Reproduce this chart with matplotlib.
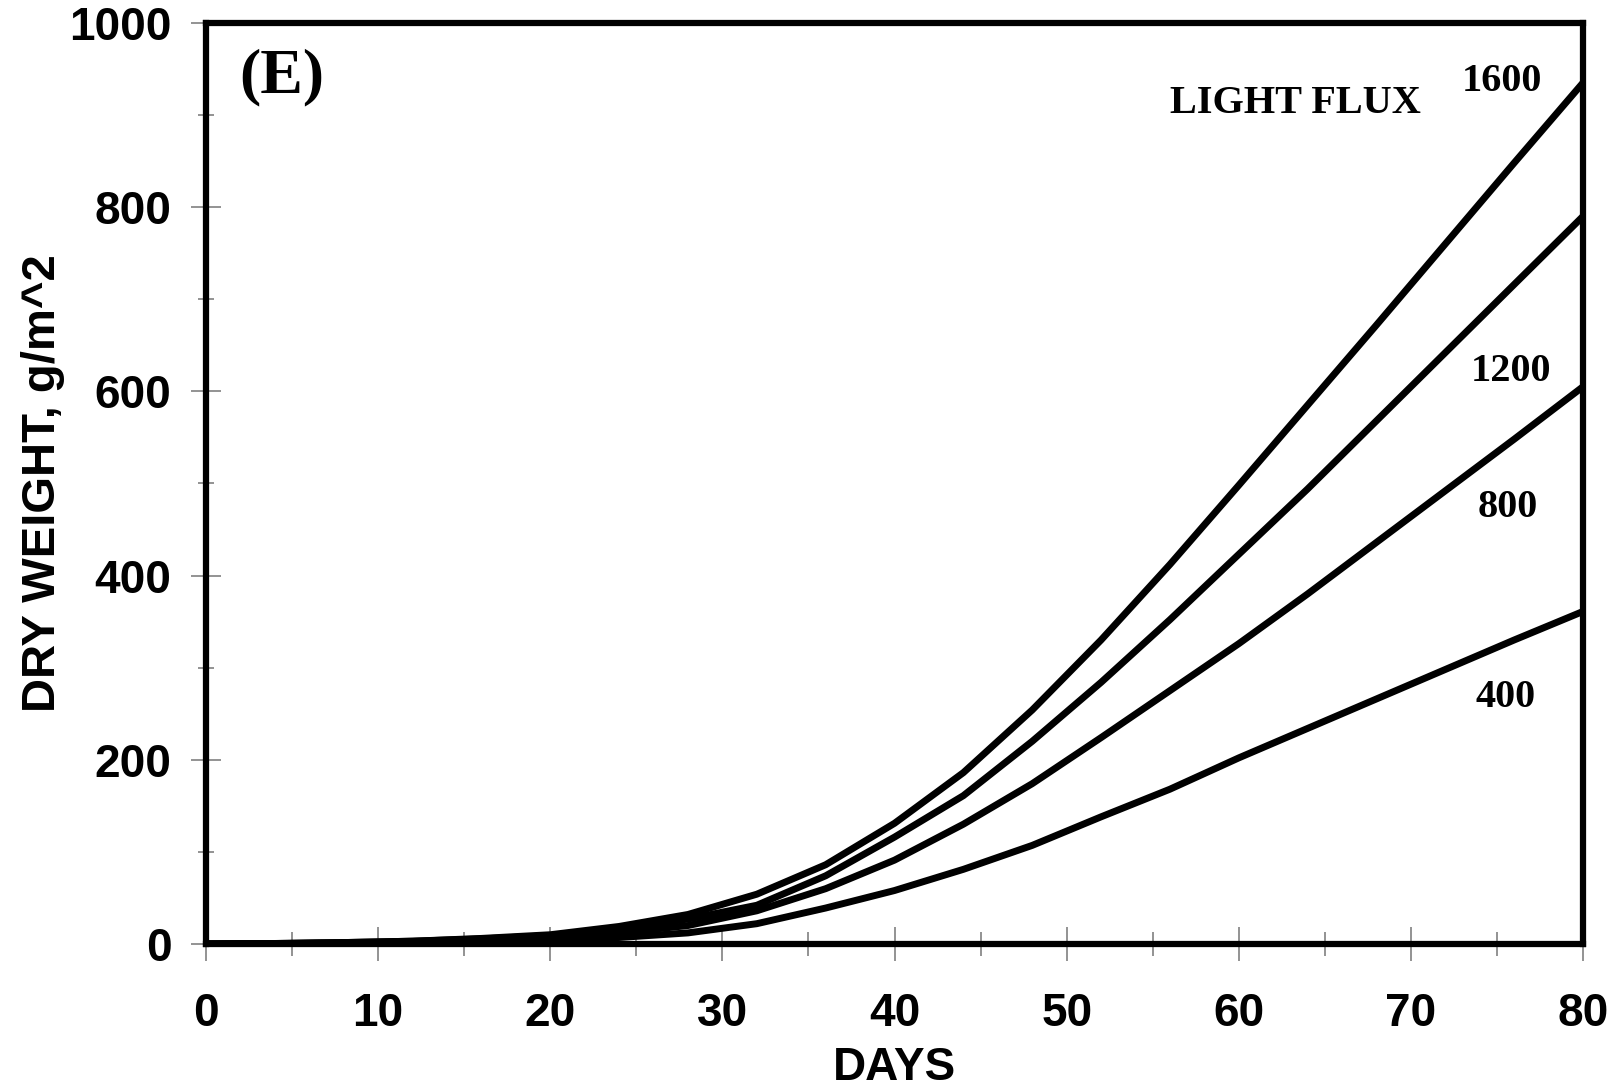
import numpy as np
import matplotlib.pyplot as plt
from matplotlib.ticker import MultipleLocator

# Dados
dias = [0, 4, 8, 12, 16, 20, 24, 28, 32, 36, 40, 44, 48, 52, 56, 60, 64, 68, 72, 76, 80]
peso_1600 = [0, 0.5, 1.5, 3, 6, 10, 19, 32, 54, 86, 131, 186, 254, 330, 412, 498, 585, 672, 760, 848, 935]
peso_1200 = [0, 0.5, 1.5, 3, 5.5, 9, 17, 27, 42, 74, 116, 161, 220, 284, 352, 423, 494, 568, 642, 716, 790]
peso_800 = [0, 0.4, 1, 2, 4, 7, 12, 20, 36, 60, 91, 130, 174, 224, 275, 326, 380, 436, 492, 548, 605]
peso_400 = [0, 0.3, 0.8, 1.5, 3, 5, 7, 12, 22, 39, 58, 81, 107, 138, 168, 202, 234, 266, 298, 330, 361]

series = [peso_1600, peso_1200, peso_800, peso_400]
rotulos = ['1600', '1200', '800', '400']
# posições dos rótulos (dados)
pos_rotulos = [(75.3, 936), (75.8, 621), (75.6, 474), (75.5, 268)]

plt.rcParams['font.family'] = ['Liberation Sans', 'DejaVu Sans']

fig = plt.figure(figsize=(16.17, 10.88), dpi=100)
ax = fig.add_axes([0.1274, 0.1324, 0.979 - 0.1274, 0.979 - 0.1324])

for s in series:
    ax.plot(dias, s, color='black', lw=5, solid_joinstyle='miter')

ax.set_xlim(0, 80)
ax.set_ylim(0, 1000)
ax.xaxis.set_major_locator(MultipleLocator(10))
ax.xaxis.set_minor_locator(MultipleLocator(5))
ax.yaxis.set_major_locator(MultipleLocator(200))
ax.yaxis.set_minor_locator(MultipleLocator(100))

for sp in ax.spines.values():
    sp.set_linewidth(4.5)
    sp.set_color('black')

ax.tick_params(axis='x', which='major', direction='inout', length=25, width=1.2,
               color='#808080', labelsize=33, pad=22)
ax.tick_params(axis='x', which='minor', direction='inout', length=17, width=1.2, color='#808080')
ax.tick_params(axis='y', which='major', direction='inout', length=22, width=1.2,
               color='#808080', labelsize=33, pad=14)
ax.tick_params(axis='y', which='minor', direction='inout', length=11, width=1.2, color='#808080')
for lab in ax.get_xticklabels() + ax.get_yticklabels():
    lab.set_fontweight('bold')

ax.set_xlabel('DAYS', fontsize=33, fontweight='bold', labelpad=7)
ax.set_ylabel('DRY WEIGHT, g/m^2', fontsize=34, fontweight='bold', labelpad=3)

ax.text(4.4, 941, '(E)', family='Liberation Serif', fontsize=46, fontweight='bold',
        ha='center', va='center')
ax.text(63.3, 912, 'LIGHT FLUX', family='Liberation Serif', fontsize=29, fontweight='bold',
        ha='center', va='center')
for r, (px, py) in zip(rotulos, pos_rotulos):
    ax.text(px, py, r, family='Liberation Serif', fontsize=29, fontweight='bold',
            ha='center', va='center')

plt.savefig('out.png', dpi=100)
